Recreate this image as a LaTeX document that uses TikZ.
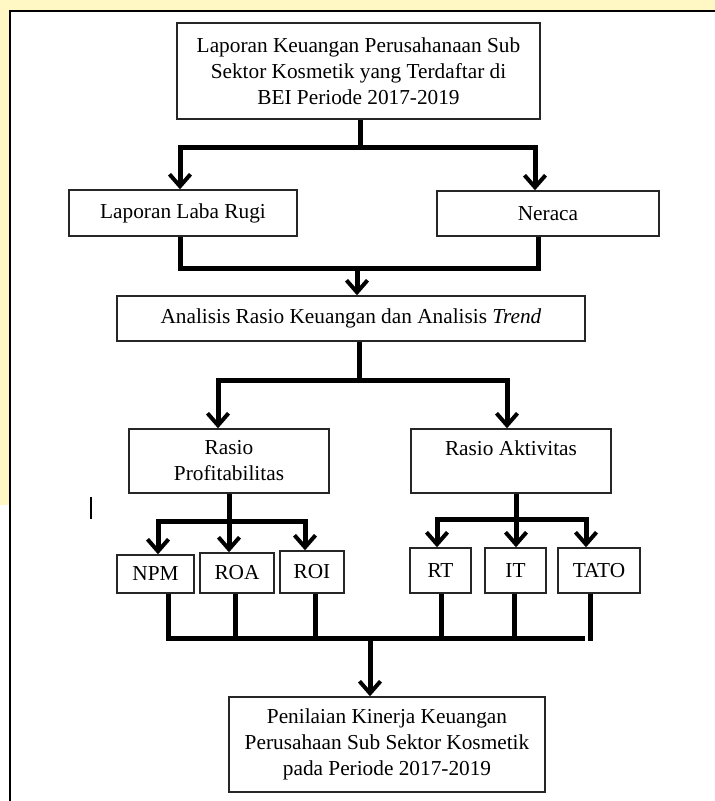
\documentclass[tikz,border=0pt]{standalone}
\usepackage{fontspec}
\setmainfont{Liberation Serif}
\usetikzlibrary{arrows.meta,calc}
\newcommand\figfont{\fontsize{21.3}{26}\selectfont}
\definecolor{bgyellow}{HTML}{FFF8C4}
\begin{document}
\begin{tikzpicture}[x=1pt,y=-1pt,
  box/.style={draw=black!85, line width=1.4pt, fill=white, inner sep=0pt, align=center, font=\figfont},
  conn/.style={line width=5pt},
  arr/.style={line width=5pt, -{Straight Barb[length=12pt,width=21pt,line width=4pt]}}
]
\useasboundingbox (0,0) rectangle (715,801);
% background outside the frame
\fill[bgyellow] (0,0) rectangle (715,10);
\fill[bgyellow] (0,0) rectangle (9,505);
\draw[line width=2pt] (10,801) -- (10,11) -- (715,11);

% boxes
\node[box, minimum width=363pt, minimum height=96pt] (top) at (358.5,71)
  {Laporan Keuangan Perusahanaan Sub\\Sektor Kosmetik yang Terdaftar di\\BEI Periode 2017-2019};
\node[box, minimum width=228pt, minimum height=46pt] (lr) at (183,213) {Laporan Laba Rugi};
\node[box, minimum width=222pt, minimum height=45pt] (ner) at (548,213.5) {Neraca};
\node[box, minimum width=468pt, minimum height=45pt] (ana) at (351,318.5)
  {Analisis Rasio Keuangan dan Analisis \textit{Trend}};
\node[box, minimum width=200pt, minimum height=64pt] (prof) at (229,461) {Rasio\\Profitabilitas};
\node[box, minimum width=200pt, minimum height=64pt] (akt) at (511,461) {Rasio Aktivitas\\~};
\node[box, minimum width=77pt, minimum height=38pt] (npm) at (155.5,574) {NPM};
\node[box, minimum width=74pt, minimum height=40pt] (roa) at (237,573) {ROA};
\node[box, minimum width=64pt, minimum height=42pt] (roi) at (312,572) {ROI};
\node[box, minimum width=61pt, minimum height=45pt] (rt) at (440.5,570.5) {RT};
\node[box, minimum width=61pt, minimum height=45pt] (it) at (515.5,570.5) {IT};
\node[box, minimum width=82pt, minimum height=45pt] (tato) at (599,570.5) {TATO};
\node[box, minimum width=316pt, minimum height=95pt] (fin) at (387,744.5)
  {Penilaian Kinerja Keuangan\\Perusahaan Sub Sektor Kosmetik\\pada Periode 2017-2019};

% stray cursor mark
\draw[line width=2pt] (90.5,497) -- (90.5,519);

% top -> laba rugi / neraca
\coordinate (j1) at (360,147);
\draw[conn] ([xshift=1.5pt]top.south) -- (j1);
\draw[arr] (j1) -| ([xshift=-3pt]lr.north);
\draw[arr] (j1) -| ([xshift=-13pt]ner.north);

% laba rugi / neraca -> analisis
\coordinate (j2) at (357,268);
\coordinate (m2) at (538,268);
\draw[conn] ([xshift=-3pt]lr.south) |- (m2) -- (m2 |- ner.south);
\draw[arr] (j2) -- (j2 |- ana.north);

% analisis -> rasio
\coordinate (j3) at (359,380);
\draw[conn] ([xshift=8pt]ana.south) -- (j3);
\draw[arr] (j3) -| ([xshift=-11pt]prof.north);
\draw[arr] (j3) -| ([xshift=-4pt]akt.north);

% profitabilitas -> NPM, ROA, ROI
\coordinate (j4) at (229,521);
\draw[conn] (prof.south) -- (j4);
\draw[arr] (j4) -| ([xshift=2.5pt]npm.north);
\draw[arr] (j4) -- (j4 |- roa.north);
\draw[arr] (j4) -| ([xshift=-7pt]roi.north);

% aktivitas -> RT, IT, TATO
\coordinate (j5) at (516,519);
\draw[conn] ([xshift=5pt]akt.south) -- (j5);
\draw[arr] (j5) -| ([xshift=-3.5pt]rt.north);
\draw[arr] (j5) -- (j5 |- it.north);
\draw[arr] (j5) -| ([xshift=-13pt]tato.north);

% ratios -> penilaian
\coordinate (b2) at (585,638);
\draw[conn] ([xshift=12.5pt]npm.south) |- (b2);
\draw[conn] ([xshift=-2pt]roa.south) -- ([xshift=-2pt]roa.south |- b2);
\draw[conn] ([xshift=3pt]roi.south) -- ([xshift=3pt]roi.south |- b2);
\draw[conn] ([xshift=0.5pt]rt.south) -- ([xshift=0.5pt]rt.south |- b2);
\draw[conn] ([xshift=-1.5pt]it.south) -- ([xshift=-1.5pt]it.south |- b2);
\coordinate (tb) at (590,641);
\draw[conn] ([xshift=-9pt]tato.south) -- ([xshift=-9pt]tato.south |- tb);
\coordinate (j6) at (370,638);
\draw[arr] (j6) -- (j6 |- fin.north);
\end{tikzpicture}
\end{document}
